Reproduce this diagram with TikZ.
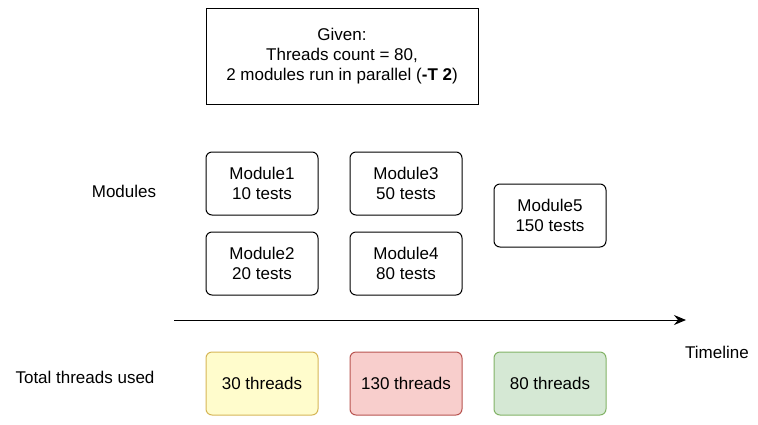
\documentclass[tikz,border=0pt]{standalone}
\usepackage{fontspec}
\setmainfont{Liberation Sans}
\usetikzlibrary{arrows.meta}
\begin{document}
\begin{tikzpicture}[x=1pt,y=-1pt,
 box/.style={draw,rounded corners=6pt,line width=1pt,minimum width=112pt,minimum height=63pt,align=center,font=\fontsize{17}{20}\selectfont,inner sep=0pt},
 lbl/.style={font=\fontsize{17}{20}\selectfont,inner sep=0pt}]
\useasboundingbox (0,0) rectangle (758,424);
\node[draw,line width=1pt,minimum width=272pt,minimum height=96pt,align=center,inner sep=0pt,font=\fontsize{17}{20}\selectfont] (given) at (342,56) {Given:\\Threads count = 80,\\2 modules run in parallel (\textbf{-T 2})};
\node[box] (m1) at (262,183.5) {Module1\\10 tests};
\node[box] (m2) at (262,263.5) {Module2\\20 tests};
\node[box] (m3) at (406,183.5) {Module3\\50 tests};
\node[box] (m4) at (406,263.5) {Module4\\80 tests};
\node[box] (m5) at (550,215.5) {Module5\\150 tests};
\node[box,fill=yellow!20!white,draw={rgb,255:red,214;green,182;blue,86}] (t1) at (262,383.5) {30 threads};
\node[box,fill={rgb,255:red,248;green,206;blue,204},draw={rgb,255:red,184;green,84;blue,80}] (t2) at (406,383.5) {130 threads};
\node[box,fill={rgb,255:red,213;green,232;blue,212},draw={rgb,255:red,130;green,179;blue,102}] (t3) at (550,383.5) {80 threads};
\node[lbl] (lm) at (124,191) {Modules};
\node[lbl] (lt) at (85,377) {Total threads used};
\node[lbl] (ltl) at (717,352) {Timeline};
\coordinate (a0) at (174,320);
\coordinate (a1) at (686,320);
\draw[line width=1pt,-{Stealth[length=12pt,width=10pt,inset=4pt]}] (a0) -- (a1);
\end{tikzpicture}
\end{document}
